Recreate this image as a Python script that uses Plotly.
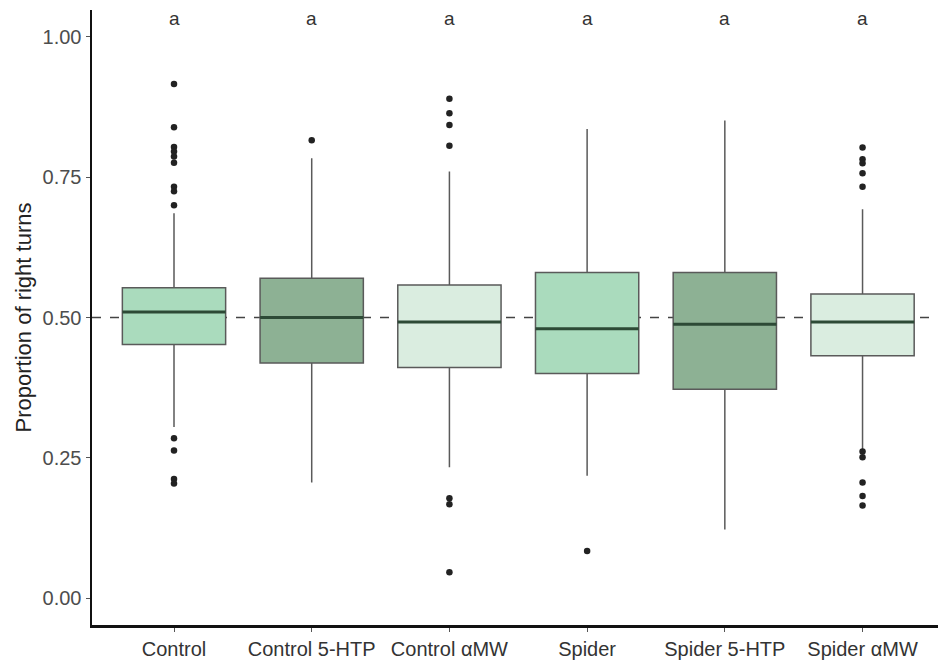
import plotly.graph_objects as go

categories = ["Control", "Control 5-HTP", "Control αMW", "Spider", "Spider 5-HTP", "Spider αMW"]
q1 = [0.452, 0.419, 0.411, 0.400, 0.372, 0.432]
median = [0.510, 0.500, 0.492, 0.480, 0.488, 0.492]
q3 = [0.553, 0.570, 0.558, 0.580, 0.580, 0.542]
lower_whisker = [0.305, 0.206, 0.233, 0.218, 0.122, 0.264]
upper_whisker = [0.686, 0.784, 0.760, 0.836, 0.851, 0.693]
outliers = [
    [0.916, 0.839, 0.804, 0.796, 0.787, 0.776, 0.733, 0.725, 0.700, 0.285, 0.263, 0.212, 0.204],
    [0.816],
    [0.890, 0.864, 0.843, 0.806, 0.178, 0.167, 0.046],
    [0.084],
    [],
    [0.803, 0.782, 0.775, 0.757, 0.733, 0.261, 0.251, 0.206, 0.182, 0.165],
]
letters = ["a", "a", "a", "a", "a", "a"]
fill_colors = ["#aadbbd", "#8db194", "#daede0", "#aadbbd", "#8db194", "#daede0"]

box_width = 0.75
fig = go.Figure()

for i, cat in enumerate(categories):
    fig.add_trace(go.Box(
        x=[i], q1=[q1[i]], median=[median[i]], q3=[q3[i]],
        lowerfence=[lower_whisker[i]], upperfence=[upper_whisker[i]],
        width=box_width, whiskerwidth=0, boxpoints=False,
        fillcolor=fill_colors[i], line=dict(color="#5a5a5a", width=1.5),
        showlegend=False, hoverinfo="skip",
    ))
    fig.add_trace(go.Scatter(
        x=[i - box_width / 2, i + box_width / 2], y=[median[i], median[i]],
        mode="lines", line=dict(color="#2d4a36", width=3),
        showlegend=False, hoverinfo="skip",
    ))
    if outliers[i]:
        fig.add_trace(go.Scatter(
            x=[i] * len(outliers[i]), y=outliers[i], mode="markers",
            marker=dict(color="#222222", size=6.5),
            showlegend=False, hoverinfo="skip",
        ))
    fig.add_annotation(x=i, y=1.033, text=letters[i], showarrow=False,
                       font=dict(size=19, color="#333333"))

fig.add_hline(y=0.5, line=dict(color="#444444", width=1.5, dash="dash"), layer="below")

fig.update_layout(
    width=938, height=665,
    margin=dict(l=92, r=0, t=10, b=40),
    plot_bgcolor="white", paper_bgcolor="white",
    font=dict(family="Liberation Sans, Arial, sans-serif"),
    xaxis=dict(
        range=[-0.5955, 5.548], tickmode="array",
        tickvals=list(range(len(categories))), ticktext=categories,
        showline=True, linecolor="#111111", linewidth=2.5,
        ticks="outside", ticklen=4, tickcolor="#555555",
        showgrid=False, zeroline=False, automargin=False,
        tickfont=dict(size=20, color="#333333"),
    ),
    yaxis=dict(
        range=[-0.048, 1.048], tickvals=[0, 0.25, 0.5, 0.75, 1.0],
        ticktext=["0.00", "0.25", "0.50", "0.75", "1.00"],
        showline=True, linecolor="#111111", linewidth=2.5,
        ticks="outside", ticklen=4, tickcolor="#555555",
        showgrid=False, zeroline=False, automargin=False,
        tickfont=dict(size=20, color="#4d4d4d"),
        title=dict(text="Proportion of right turns", font=dict(size=22, color="#222222"), standoff=5),
    ),
)

fig.write_html(
    "out.html",
    config={"displayModeBar": False, "staticPlot": True},
    post_script="document.body.style.margin='0';document.body.style.overflow='hidden';",
)
